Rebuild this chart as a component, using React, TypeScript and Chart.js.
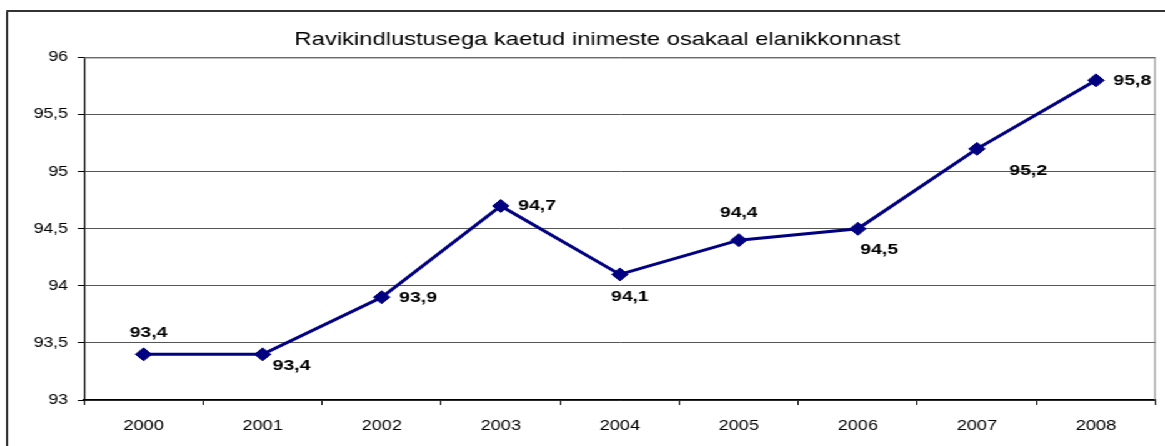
import React, { useEffect, useRef } from 'react';
import { Chart, registerables } from 'chart.js';

Chart.register(...registerables);

// ---- data ----
const years = ['2000', '2001', '2002', '2003', '2004', '2005', '2006', '2007', '2008'];
const coverage = [93.4, 93.4, 93.9, 94.7, 94.1, 94.4, 94.5, 95.2, 95.8];
const yMin = 93;
const yMax = 96;
const yStep = 0.5;
const chartTitle = 'Ravikindlustusega kaetud inimeste osakaal elanikkonnast';

// ---- label placement (style only): [align, dx, dy] ----
const labelPlacement: [CanvasTextAlign, number, number][] = [
  ['center', 4, -22],
  ['left', 8, 11],
  ['left', 14, 0],
  ['left', 14, 0],
  ['center', 8, 22],
  ['center', 0, -27],
  ['left', 2, 21],
  ['left', 26, 22],
  ['left', 14, 0],
];

const W = 1165;
const H = 446;
const SX = 1.25;
const IW = W / SX;
const FONT = "'Liberation Sans', Arial, sans-serif";
const fmt = (v: number) => String(Math.round(v * 10) / 10).replace('.', ',');

const framePlugin = {
  id: 'frame',
  beforeDraw(chart: any) {
    const ctx = chart.ctx;
    ctx.save();
    ctx.strokeStyle = '#000';
    ctx.lineWidth = 1.3;
    ctx.beginPath();
    ctx.moveTo(5.6, 11);
    ctx.lineTo(5.6, H);
    ctx.stroke();
    ctx.strokeStyle = '#333';
    ctx.lineWidth = 2;
    ctx.beginPath();
    ctx.moveTo(5, 11);
    ctx.lineTo(IW, 11);
    ctx.stroke();
    // title
    ctx.fillStyle = '#000';
    ctx.font = `19px ${FONT}`;
    ctx.textAlign = 'center';
    ctx.textBaseline = 'middle';
    ctx.fillText(chartTitle, 478, 40);
    ctx.restore();
  },
  beforeDatasetsDraw(chart: any) {
    const { ctx, chartArea } = chart;
    ctx.save();
    ctx.strokeStyle = '#808080';
    ctx.lineWidth = 1;
    ctx.beginPath();
    ctx.moveTo(chartArea.left, chartArea.top + 0.5);
    ctx.lineTo(chartArea.right - 0.5, chartArea.top + 0.5);
    ctx.lineTo(chartArea.right - 0.5, chartArea.bottom);
    ctx.stroke();
    ctx.restore();
  },
  afterDatasetsDraw(chart: any) {
    const ctx = chart.ctx;
    const meta = chart.getDatasetMeta(0);
    ctx.save();
    ctx.fillStyle = '#000';
    ctx.font = `bold 15.5px ${FONT}`;
    ctx.textBaseline = 'middle';
    meta.data.forEach((pt: any, i: number) => {
      const [align, dx, dy] = labelPlacement[i];
      ctx.textAlign = align;
      ctx.fillText(fmt(coverage[i]), pt.x + dx, pt.y + dy);
    });
    ctx.restore();
  },
};

export default function App() {
  const ref = useRef<HTMLCanvasElement>(null);
  useEffect(() => {
    if (!ref.current) return;
    const chart = new Chart(ref.current, {
      type: 'line',
      data: {
        labels: years,
        datasets: [
          {
            data: coverage,
            borderColor: '#000080',
            backgroundColor: '#000080',
            borderWidth: 3,
            pointStyle: 'rectRot',
            pointRadius: 6.5,
            pointBorderWidth: 1,
            pointBackgroundColor: '#000080',
            pointBorderColor: '#000080',
            tension: 0,
          },
        ],
      },
      options: {
        animation: false,
        responsive: false,
        devicePixelRatio: 1,
        layout: { padding: { left: 0, right: 2.4, top: 57.5, bottom: 0 } },
        plugins: {
          legend: { display: false },
          title: { display: false },
          tooltip: { enabled: false },
        },
        scales: {
          x: {
            offset: true,
            grid: {
              offset: true,
              drawOnChartArea: false,
              drawTicks: true,
              tickLength: 5,
              tickColor: '#000',
            },
            border: { color: '#000', width: 1.5 },
            ticks: {
              color: '#000',
              font: { family: FONT, size: 14.5 },
              padding: 12,
              maxRotation: 0,
            },
            afterFit(scale: any) {
              scale.height = 46;
            },
          },
          y: {
            min: yMin,
            max: yMax,
            grid: {
              color: '#555',
              lineWidth: 1,
              drawTicks: true,
              tickLength: 5,
              tickColor: '#000',
            },
            border: { color: '#000', width: 1.2 },
            ticks: {
              stepSize: yStep,
              color: '#000',
              font: { family: FONT, size: 14 },
              padding: 8,
              callback: (v: any) => fmt(Number(v)),
            },
            afterFit(scale: any) {
              scale.width = 67.2;
            },
          },
        },
      },
      plugins: [framePlugin],
    });
    return () => chart.destroy();
  }, []);

  return (
    <div
      style={{
        position: 'fixed',
        left: 0,
        top: 0,
        width: IW,
        height: H,
        transform: `scaleX(${SX})`,
        transformOrigin: '0 0',
        background: '#fff',
      }}
    >
      <canvas ref={ref} width={IW} height={H} />
    </div>
  );
}
